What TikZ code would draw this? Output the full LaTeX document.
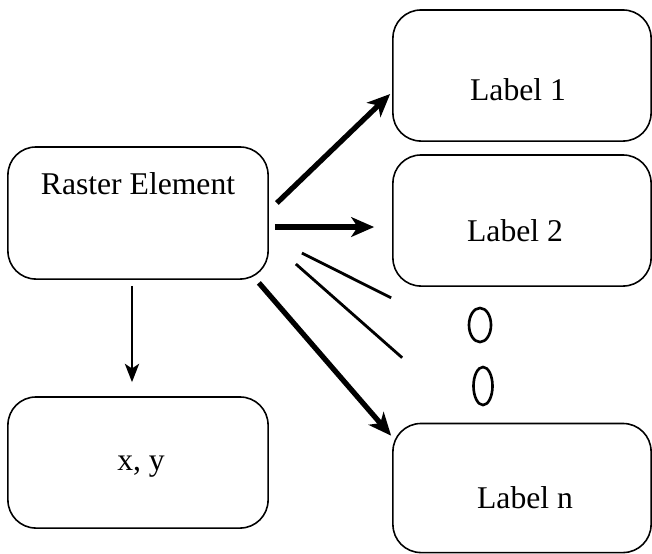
\documentclass[tikz,border=0pt]{standalone}
\usepackage{fontspec}
\setmainfont{Liberation Serif}
\usetikzlibrary{arrows.meta,shapes.geometric,positioning}

\tikzset{
  elbox/.style={draw, line width=0.45pt, rounded corners=0.28cm,
    minimum width=2.6cm, minimum height=1.31cm, inner sep=0pt},
  txt/.style={anchor=base, inner sep=0pt, font=\fontsize{9}{11}\selectfont},
  bigarrow/.style={line width=1.5pt, -{Stealth[length=6.5pt,width=5.6pt,inset=1.8pt]}},
  thinline/.style={line width=0.8pt},
  downarrow/.style={line width=0.85pt, -{Stealth[length=5.2pt,width=4pt,inset=1.3pt]}},
  dotoval/.style={draw, ellipse, line width=0.75pt, inner sep=0pt}
}

\begin{document}
\begin{tikzpicture}[x=0.01cm, y=-0.01cm]
\useasboundingbox (0,0) rectangle (652,553);

% boxes
\node[elbox, minimum height=1.32cm] (raster) at (138,213) {};
\node[elbox] (xy) at (138,462.5) {};
\node[elbox, minimum width=2.58cm] (lab1) at (522,75.5) {};
\node[elbox, minimum width=2.58cm] (lab2) at (522,220.5) {};
\node[elbox, minimum width=2.58cm, minimum height=1.29cm] (labn) at (522,488) {};

% texts
\node[txt] (traster) at (138,194) {Raster Element};
\node[txt] (txy) at (141,470) {x, y};
\node[txt] (tlab1) at (518,100) {Label 1};
\node[txt] (tlab2) at (515,241) {Label 2};
\node[txt] (tlabn) at (525,508) {Label n};

% ovals between label 2 and label n
\node[dotoval, minimum width=0.22cm, minimum height=0.34cm] (oval1) at (480,325) {};
\node[dotoval, minimum width=0.19cm, minimum height=0.38cm] (oval2) at (483,386) {};

% connectors
\draw[bigarrow] ([shift={(8,-10)}]raster.east) -- ([shift={(-2,18.5)}]lab1.west);
\draw[bigarrow] ([shift={(6,14)}]raster.east) -- ([shift={(-18,6.5)}]lab2.west);
\draw[thinline] ([shift={(33,40)}]raster.east) -- ([shift={(-1,11)}]lab2.south west);
\draw[thinline] ([shift={(27,51)}]raster.east) -- ([shift={(10,-65)}]labn.north west);
\draw[bigarrow] ([shift={(-10,3)}]raster.south east) -- ([shift={(-1,13)}]labn.north west);
\draw[downarrow] ([shift={(-6,6)}]raster.south) -- ([shift={(-6,-14)}]xy.north);

\end{tikzpicture}
\end{document}
